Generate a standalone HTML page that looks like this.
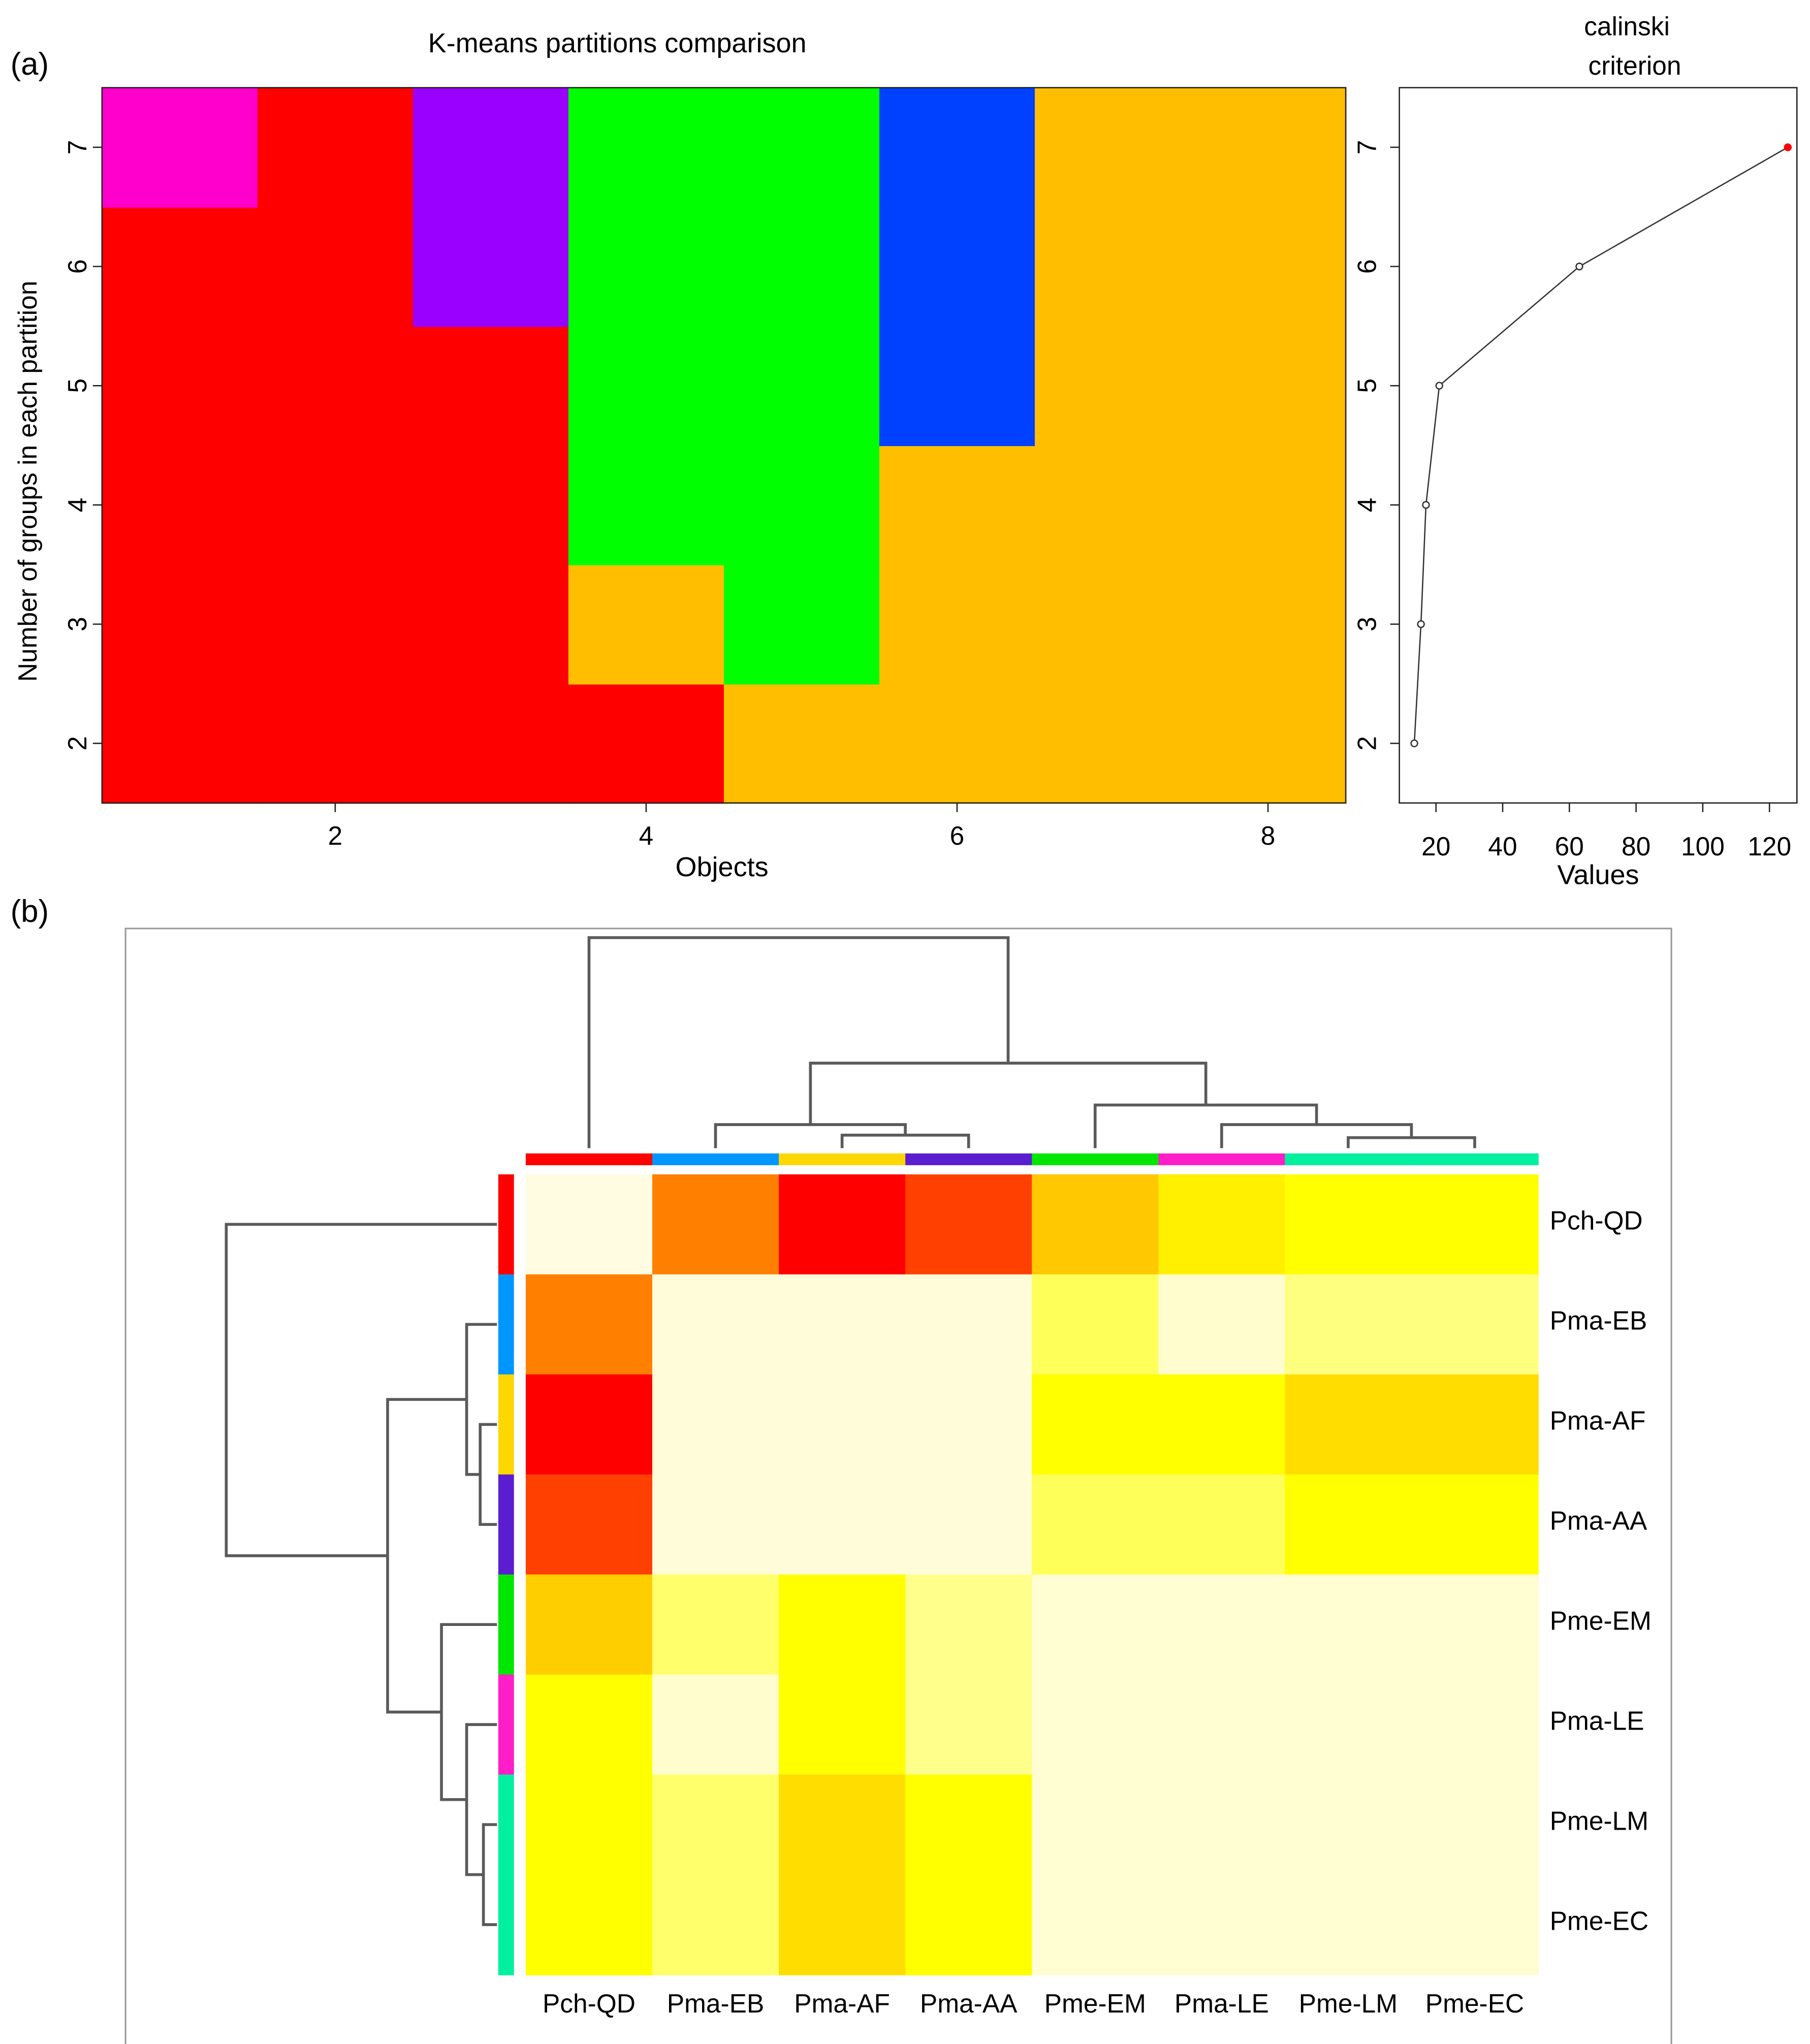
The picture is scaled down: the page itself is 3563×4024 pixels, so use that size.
<!DOCTYPE html>
<html><head><meta charset="utf-8">
<style>
html,body{margin:0;padding:0;background:#fff;}
svg{display:block;}
text{font-family:"Liberation Sans",sans-serif;}
</style></head>
<body>
<svg id="fig" width="3563" height="4024" viewBox="0 0 1384 1563" xmlns="http://www.w3.org/2000/svg">
<rect x="0" y="0" width="1384" height="1563" fill="#fff"/>
<text x="8" y="57" font-size="24">(a)</text>
<text x="8" y="705" font-size="24">(b)</text>
<g id="pa"></g><g id="pc"></g><g id="pb"></g>
</svg>
<script>
// ---------- Panel (a) data ----------
const objects = [1,2,3,4,5,6,7,8];
const kValues = [2,3,4,5,6,7];
const partitions = [
  [0,0,0,0,1,1,1,1],
  [0,0,0,1,2,1,1,1],
  [0,0,0,2,2,1,1,1],
  [0,0,0,2,2,3,1,1],
  [0,0,4,2,2,3,1,1],
  [5,0,4,2,2,3,1,1]
];
const groupColors = ["#ff0000","#ffbf00","#00ff00","#0040ff","#9900ff","#ff00cc"];
const xTicksA = [2,4,6,8];
const yTicksA = [2,3,4,5,6,7];
// calinski
const calinskiK = [2,3,4,5,6,7];
const calinskiVals = [13.5,15.5,17,21,63,125.5];
const calTicks = [20,40,60,80,100,120];
// ---------- Panel (b) data ----------
const samples = ["Pch-QD","Pma-EB","Pma-AF","Pma-AA","Pme-EM","Pma-LE","Pme-LM","Pme-EC"];
const clusterColors = ["#ff0000","#0096ff","#ffd700","#5a1ed0","#00e600","#ff1ec8","#00f0a0","#00f0a0"];
const heat = [
  [0.00,0.75,1.00,0.90,0.60,0.47,0.42,0.42],
  [0.75,0.02,0.02,0.02,0.28,0.05,0.22,0.22],
  [1.00,0.02,0.02,0.02,0.42,0.42,0.53,0.53],
  [0.90,0.02,0.02,0.02,0.28,0.28,0.42,0.42],
  [0.58,0.25,0.42,0.20,0.04,0.04,0.04,0.04],
  [0.42,0.05,0.42,0.20,0.04,0.04,0.04,0.04],
  [0.42,0.25,0.53,0.42,0.04,0.04,0.04,0.04],
  [0.42,0.25,0.53,0.42,0.04,0.04,0.04,0.04]
];
// dendrogram merges: [leftNode,rightNode,height]; leaves 0..7, internal nodes 8+
const merges = [
  [6,7,0.05],
  [2,3,0.062],
  [5,8,0.112],
  [1,9,0.112],
  [4,10,0.205],
  [11,12,0.404],
  [0,13,1.0]
];

const NS="http://www.w3.org/2000/svg";
function mk(parent,tag,attrs){const e=document.createElementNS(NS,tag);for(const k in attrs)e.setAttribute(k,attrs[k]);parent.appendChild(e);return e;}
function txt(parent,x,y,s,size,anchor,extra){const t=mk(parent,"text",Object.assign({x:x,y:y,"font-size":size,"text-anchor":anchor||"middle"},extra||{}));t.textContent=s;return t;}

// ---- Panel a heat partitions ----
const pa=document.getElementById("pa");
const ax0=78,ax1=1029,ay0=67,ay1=614;
const xA=v=>ax0+(v-0.5)*(ax1-ax0)/8;
const yA=v=>ay1-(v-1.5)*(ay1-ay0)/6;
kValues.forEach((k,ki)=>{objects.forEach((o,oi)=>{
  const r=mk(pa,"rect",{x:xA(o-0.5),y:yA(k+0.5),width:xA(o+0.5)-xA(o-0.5)+0.6,height:yA(k-0.5)-yA(k+0.5)+0.6,fill:groupColors[partitions[ki][oi]]});
  
  
});});
mk(pa,"rect",{x:ax0,y:ay0,width:ax1-ax0,height:ay1-ay0,fill:"none",stroke:"#222","stroke-width":1});
xTicksA.forEach(v=>{mk(pa,"line",{x1:xA(v),x2:xA(v),y1:ay1,y2:ay1+7,stroke:"#222"});const t=txt(pa,xA(v),646,String(v),20);});
yTicksA.forEach(v=>{mk(pa,"line",{x1:ax0-7,x2:ax0,y1:yA(v),y2:yA(v),stroke:"#222"});const t=txt(pa,0,0,String(v),20,"middle",{transform:`translate(66,${yA(v)}) rotate(-90)`});});
let t=txt(pa,472,40,"K-means partitions comparison",21);
t=txt(pa,552,670,"Objects",21);
t=txt(pa,0,0,"Number of groups in each partition",20,"middle",{transform:"translate(28,368) rotate(-90)"});

// ---- Calinski ----
const pc=document.getElementById("pc");
const cx0=1070,cx1=1374;
const xC=v=>1098+(v-20)*2.55;
mk(pc,"rect",{x:cx0,y:ay0,width:cx1-cx0,height:ay1-ay0,fill:"none",stroke:"#222","stroke-width":1});
calTicks.forEach(v=>{mk(pc,"line",{x1:xC(v),x2:xC(v),y1:ay1,y2:ay1+7,stroke:"#222"});const t=txt(pc,xC(v),654,String(v),20);});
yTicksA.forEach(v=>{mk(pc,"line",{x1:cx0-7,x2:cx0,y1:yA(v),y2:yA(v),stroke:"#222"});const t=txt(pc,0,0,String(v),20,"middle",{transform:`translate(1052,${yA(v)}) rotate(-90)`});});
mk(pc,"polyline",{points:calinskiK.map((k,i)=>xC(calinskiVals[i])+","+yA(k)).join(" "),fill:"none",stroke:"#333","stroke-width":1});
calinskiK.forEach((k,i)=>{const last=i===calinskiK.length-1;const c=mk(pc,"circle",{cx:xC(calinskiVals[i]),cy:yA(k),r:2.5,fill:last?"#ff0000":"#fff",stroke:last?"#ff0000":"#333","stroke-width":1});});
t=txt(pc,1244,27,"calinski",20);
t=txt(pc,1250,57,"criterion",20);
t=txt(pc,1222,676,"Values",21);

// ---- Panel b heatmap ----
const pb=document.getElementById("pb");
mk(pb,"rect",{x:96,y:710,width:1182,height:860,fill:"none",stroke:"#999","stroke-width":1.2});
const hx0=402,hx1=1176,hy0=898,hy1=1510,n=samples.length;
const cw=(hx1-hx0)/n,ch=(hy1-hy0)/n;
const colX=i=>hx0+i*cw, rowY=i=>hy0+i*ch;
function heatColor(v){
  const stops=[[0,[255,252,226]],[0.2,[255,255,140]],[0.42,[255,255,0]],[0.6,[255,200,0]],[0.75,[255,128,0]],[0.9,[255,64,0]],[1,[255,0,0]]];
  for(let i=1;i<stops.length;i++){if(v<=stops[i][0]){const a=stops[i-1],b=stops[i],f=(v-a[0])/(b[0]-a[0]);const c=a[1].map((x,j)=>Math.round(x+(b[1][j]-x)*f));return `rgb(${c.join(",")})`;}}
  return "rgb(255,0,0)";
}
heat.forEach((row,ri)=>row.forEach((v,ci)=>{const r=mk(pb,"rect",{x:colX(ci),y:rowY(ri),width:cw+0.5,height:ch+0.5,fill:heatColor(v)});}));
samples.forEach((s,i)=>{
  let r=mk(pb,"rect",{x:colX(i),y:882,width:cw+0.5,height:9,fill:clusterColors[i]});
  r=mk(pb,"rect",{x:381,y:rowY(i),width:12,height:ch+0.5,fill:clusterColors[i]});
  let t=txt(pb,1185,rowY(i)+ch/2+4,s,20,"start");
  t=txt(pb,colX(i)+cw/2,1539,s,20);
});
// dendrograms
function drawDendro(orient){
  const pos={},hgt={};
  for(let i=0;i<n;i++){pos[i]=orient==="top"?colX(i)+cw/2:rowY(i)+ch/2;hgt[i]=0;}
  const base=orient==="top"?878:380, span=orient==="top"?161:207;
  const f=h=>base-h*span;
  merges.forEach((m,mi)=>{
    const id=n+mi,[a,b,h]=m;
    const pa_=pos[a],pb_=pos[b],ya=f(hgt[a]),yb=f(hgt[b]),yh=f(h);
    const d=orient==="top"?`M${pa_},${ya}V${yh}H${pb_}V${yb}`:`M${ya},${pa_}H${yh}V${pb_}H${yb}`;
    const p=mk(pb,"path",{d:d,fill:"none",stroke:"#5a5a5a","stroke-width":2.2});
    
    
    pos[id]=(pa_+pb_)/2;hgt[id]=h;
  });
}
drawDendro("top");drawDendro("left");
</script>
</body></html>
